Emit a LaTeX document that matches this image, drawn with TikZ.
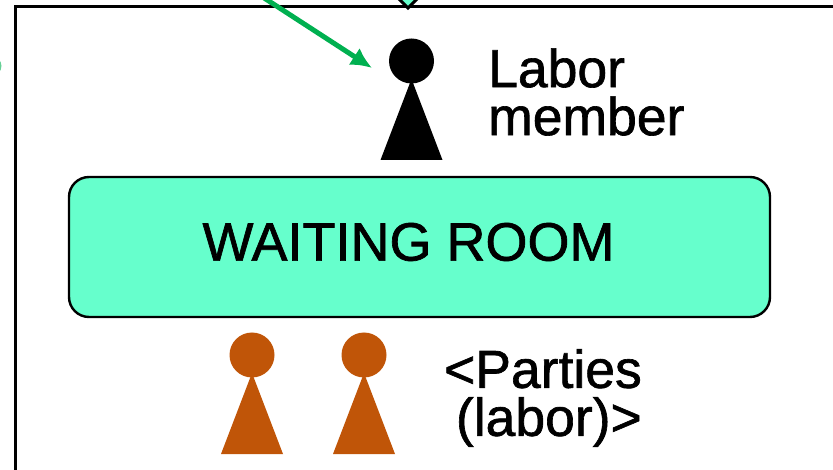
\documentclass[tikz,border=0pt]{standalone}
\usepackage{fontspec}
\setmainfont{Liberation Sans}[FakeBold=1.2]
\usetikzlibrary{arrows.meta}
\definecolor{roomgreen}{HTML}{66FFCC}
\definecolor{arrowgreen}{HTML}{00B050}
\definecolor{partyorange}{HTML}{C05508}
\tikzset{
  label text/.style={font=\fontsize{53.5}{48}\selectfont,text=black,inner sep=0pt},
  frame line/.style={draw=black,line width=3pt},
}
% one game piece: x of centre, y of head centre, colour
\newcommand{\piece}[3]{
  \fill[#3] (#1,#2) circle (22.5);
  \fill[#3] (#1,#2+18) -- (#1+31,#2+99) -- (#1-31,#2+99) -- cycle;
}
\begin{document}
\begin{tikzpicture}[x=1pt,y=-1pt,>=Latex]
\useasboundingbox (0,0) rectangle (833,470);
\clip (0,0) rectangle (833,470);

% --- OUTER FRAME ---
\draw[frame line] (15,7) rectangle (900,520);

% --- DIAMOND AND GREEN MARK, CUT BY THE EDGE ---
\draw[frame line,fill=roomgreen] (408,8) -- (422,-6) -- (408,-20) -- (394,-6) -- cycle;
\fill[arrowgreen!60] (-8,66) circle (9.5);

% --- PIECES ---
\piece{411.5}{61}{black}
\foreach \px in {252,364} {
  \piece{\px}{355}{partyorange}
}

% --- ARROW ---
\coordinate (arrowstart) at (258,-6);
\coordinate (arrowend) at (372,68);
\draw[-{Latex[length=21,width=20]},arrowgreen,line width=5pt] (arrowstart) -- (arrowend);

% --- WAITING ROOM ---
\node[draw=black,line width=2.4pt,fill=roomgreen,rounded corners=20,minimum width=701,minimum height=140,inner sep=0pt] (room) at (419.5,247) {};
\node[font=\fontsize{54}{54}\selectfont,inner sep=0pt] (roomtext) at (408.5,242) {WAITING ROOM};

% --- LABELS ---
\node[label text,align=left,anchor=west] (labor) at (488,92) {Labor\\member};
\node[label text,align=right,anchor=east] (parties) at (642,398) {<Parties\\(labor)>};

\end{tikzpicture}
\end{document}
